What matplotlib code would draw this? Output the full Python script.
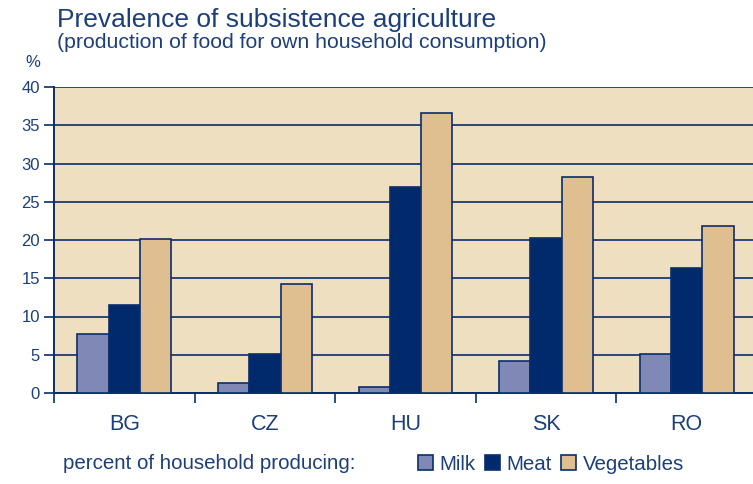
import numpy as np
import matplotlib
matplotlib.use('Agg')
import matplotlib.pyplot as plt
from matplotlib.patches import Patch

plt.rcParams['font.family'] = ['Liberation Sans', 'DejaVu Sans']

# data
countries = ['BG', 'CZ', 'HU', 'SK', 'RO']
milk = [7.7, 1.3, 0.8, 4.2, 5.1]
meat = [11.5, 5.1, 26.9, 20.3, 16.3]
vegetables = [20.1, 14.25, 36.6, 28.2, 21.8]
yticks = [0, 5, 10, 15, 20, 25, 30, 35, 40]

navy = '#0b2d6b'
text_col = '#1c3f7a'
colors = {'Milk': '#8089b5', 'Meat': '#002a6c', 'Vegetables': '#dfbf8f'}

fig = plt.figure(figsize=(7.53, 4.84), dpi=100)
W, H = 753, 484
# axes from x=54 to ~757 px, y from 87 to 393 px
ax = fig.add_axes([54 / W, 1 - 393 / H, (757 - 54) / W, (393 - 87) / H])
ax.set_facecolor('#eedfc0')

x = np.arange(len(countries))
w = 0.222
series = [('Milk', milk), ('Meat', meat), ('Vegetables', vegetables)]
for i, (name, vals) in enumerate(series):
    ax.bar(x + (i - 1) * w, vals, width=w, color=colors[name],
           edgecolor=navy, linewidth=1.2, zorder=3)

ax.set_xlim(-0.5, len(countries) - 0.5)
ax.set_ylim(0, 40)
ax.set_yticks(yticks)
ax.grid(axis='y', color=navy, linewidth=1.2, zorder=1)
ax.set_axisbelow(True)

ax.set_xticks(np.arange(len(countries) + 1) - 0.5)
ax.set_xticklabels([])
ax.set_xticks(x, minor=True)
ax.set_xticklabels(countries, minor=True, fontsize=15.5, color=text_col)
ax.tick_params(axis='x', which='major', length=7, width=1.2, color=navy, direction='out')
ax.tick_params(axis='x', which='minor', length=0, pad=15)
ax.tick_params(axis='y', length=7, width=1.2, color=navy, labelsize=12,
               labelcolor=text_col, pad=3)

for s in ['top', 'right']:
    ax.spines[s].set_visible(False)
for s in ['left', 'bottom']:
    ax.spines[s].set_color(navy)
    ax.spines[s].set_linewidth(1.4)

fig.text(57 / W, 1 - 27 / H, 'Prevalence of subsistence agriculture',
         fontsize=19, color=text_col, va='baseline')
fig.text(57 / W, 1 - 48 / H, '(production of food for own household consumption)',
         fontsize=15.3, color=text_col, va='baseline')
fig.text(25 / W, 1 - 67 / H, '%', fontsize=12, color=text_col, va='baseline')

fig.text(63 / W, 1 - 469 / H, 'percent of household producing:',
         fontsize=14.8, color=text_col, va='baseline')
handles = [Patch(facecolor=colors[n], edgecolor=navy, linewidth=1.2) for n, _ in series]
leg = fig.legend(handles, [n for n, _ in series], loc='center left',
                 bbox_to_anchor=(410 / W, 1 - 464 / H), ncol=3, frameon=False,
                 fontsize=14.8, handlelength=0.7, handleheight=0.7,
                 handletextpad=0.35, columnspacing=0.45, borderaxespad=0)
for t in leg.get_texts():
    t.set_color(text_col)

fig.savefig('out.png', dpi=100)
